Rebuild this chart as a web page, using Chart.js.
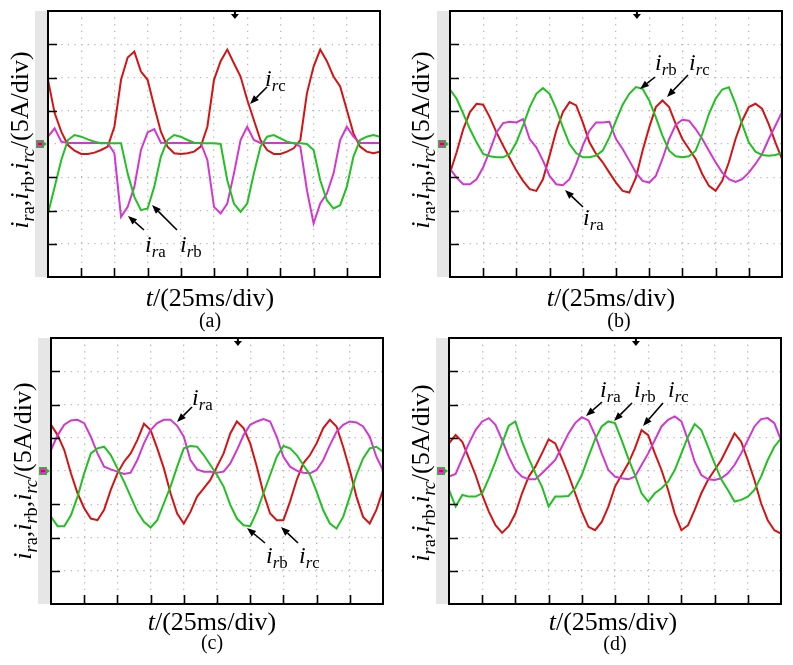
<!DOCTYPE html>
<html>
<head>
<meta charset="utf-8">
<script src="https://cdn.jsdelivr.net/npm/chart.js@4.4.0/dist/chart.umd.min.js"></script>
<style>
body{margin:0;background:#fff;width:793px;height:665px;position:relative;overflow:hidden;font-family:"Liberation Serif","DejaVu Serif",serif;color:#000}
canvas{position:absolute}
.ytitle{position:absolute;font-size:26px;white-space:nowrap;line-height:1;transform:translate(-50%,-50%) rotate(-90deg)}
.xtitle{position:absolute;font-size:26px;white-space:nowrap;line-height:1;transform:translate(-50%,-50%)}
.cap{position:absolute;font-size:20px;line-height:1;transform:translate(-50%,-50%)}
.lbl{position:absolute;font-size:24px;line-height:1;white-space:nowrap}
.s{font-size:0.7em;vertical-align:-0.3em}
svg{position:absolute;left:0;top:0}
</style>
</head>
<body>
<canvas id="ca" width="352" height="274"></canvas>
<canvas id="cb" width="352" height="274"></canvas>
<canvas id="cc" width="352" height="274"></canvas>
<canvas id="cd" width="352" height="274"></canvas>
<svg id="arrows" width="793" height="665"></svg>
<script>
// time axis, in divisions (25 ms/div)
const t = [0,0.2,0.4,0.6,0.8,1,1.2,1.4,1.6,1.8,2,2.2,2.4,2.6,2.8,3,3.2,3.4,3.6,3.8,4,4.2,4.4,4.6,4.8,5,5.2,5.4,5.6,5.8,6,6.2,6.4,6.6,6.8,7,7.2,7.4,7.6,7.8,8,8.2,8.4,8.6,8.8,9,9.2,9.4,9.6,9.8,10];

// (a) currents, in divisions (5 A/div)
const redA = [1.93,0.93,0.37,-0.03,-0.2,-0.3,-0.3,-0.26,-0.18,-0.08,0.52,1.93,2.6,2.78,2.18,1.93,1.13,0.37,-0.08,-0.28,-0.3,-0.28,-0.23,-0.08,0.52,1.93,2.49,2.84,2.43,2.03,1.33,0.72,0.12,-0.18,-0.3,-0.3,-0.23,-0.13,0.12,1.53,2.33,2.84,2.49,2.03,1.73,1.03,0.32,-0.08,-0.23,-0.28,-0.23];
const magA = [0.22,0.47,0.07,0.03,0.03,0.03,0.03,0.03,0.03,0.03,-0.28,-2.19,-1.89,-1.29,-0.18,0.35,0.45,0.04,0.03,0.03,0.03,0.03,0.03,0.03,-0.48,-1.89,-2.09,-1.79,-0.89,0.12,0.52,0.12,0.03,0.03,0.03,0.03,0.03,0.03,-0.08,-1.39,-2.39,-1.79,-1.49,-0.89,0.12,0.52,0.22,0.03,0.03,0.03,0.03];
const grnA = [-2.09,-1.29,-0.48,0.12,0.27,0.22,0.14,0.07,0.02,0.02,0.02,0.02,-0.89,-1.59,-1.99,-1.94,-1.29,-0.38,0.12,0.27,0.22,0.12,0.04,0.02,0.02,0.02,0,-1.09,-1.79,-2.04,-1.79,-0.89,-0.08,0.22,0.27,0.17,0.07,0.02,0.02,0,-0.18,-1.09,-1.69,-1.94,-1.84,-1.29,-0.38,0.12,0.22,0.27,0.22];

// (b)
const redB = [-0.86,-0.25,0.45,0.96,1.21,1.18,0.8,0.35,-0.05,-0.43,-0.8,-1.11,-1.36,-1.41,-1.06,-0.35,0.4,0.96,1.26,1.16,0.65,0.05,-0.3,-0.55,-0.86,-1.16,-1.41,-1.46,-1.01,-0.2,0.5,1.11,1.31,1.11,0.6,0.15,-0.15,-0.45,-0.91,-1.26,-1.41,-1.11,-0.55,0.15,0.7,1.11,1.21,1.06,0.6,0.05,-0.45];
const magB = [-0.75,-1.01,-1.21,-1.21,-1.06,-0.7,-0.2,0.35,0.63,0.67,0.65,0.75,0.15,-0.1,-0.5,-0.96,-1.21,-1.24,-1.06,-0.6,-0.05,0.4,0.65,0.65,0.67,0.15,-0.15,-0.5,-0.86,-1.11,-1.16,-0.96,-0.45,0.15,0.58,0.73,0.7,0.45,0.15,-0.2,-0.55,-0.86,-1.06,-1.14,-1.06,-0.86,-0.6,-0.3,0.15,0.55,0.96];
const grnB = [1.64,1.36,0.91,0.45,0.05,-0.3,-0.37,-0.4,-0.4,-0.3,0.05,0.55,1.11,1.51,1.68,1.51,1.06,0.5,0,-0.27,-0.4,-0.4,-0.35,-0.2,0.2,0.7,1.18,1.51,1.71,1.66,1.31,0.8,0.25,-0.2,-0.37,-0.4,-0.37,-0.2,0.3,0.91,1.36,1.64,1.71,1.21,0.6,0.05,-0.23,-0.33,-0.35,-0.33,-0.27];

// (c)
const redC = [1.39,1.08,0.63,-0.07,-0.67,-1.12,-1.43,-1.48,-1.17,-0.57,-0.07,0.28,0.53,0.93,1.42,1.23,0.68,0.08,-0.67,-1.28,-1.58,-1.23,-0.77,-0.52,-0.27,0.13,0.53,1.13,1.49,1.29,0.83,0.13,-0.67,-1.28,-1.48,-1.48,-0.92,-0.27,0.23,0.48,0.83,1.29,1.54,1.34,0.73,0.03,-0.77,-1.38,-1.58,-1.17,-0.57];
const magC = [0.63,1.08,1.39,1.52,1.54,1.44,1.03,0.53,0.13,0.05,-0.02,-0.09,-0.05,0.33,0.83,1.23,1.44,1.54,1.54,1.36,1.03,0.33,0.05,-0.02,-0.02,-0.05,-0.02,0.23,0.63,1.08,1.39,1.49,1.56,1.49,1.03,0.43,0.13,0.01,-0.05,-0.07,0.03,0.33,0.78,1.18,1.39,1.49,1.46,1.34,1.03,0.43,0.03];
const grnC = [-1.38,-1.66,-1.66,-1.33,-0.77,-0.07,0.53,0.68,0.73,0.48,0.08,-0.32,-0.77,-1.22,-1.53,-1.7,-1.48,-0.97,-0.47,0.13,0.68,0.75,0.73,0.48,0.18,-0.12,-0.47,-1.02,-1.43,-1.63,-1.66,-1.22,-0.67,-0.12,0.43,0.75,0.68,0.48,0.18,-0.12,-0.62,-1.18,-1.58,-1.73,-1.38,-0.77,-0.12,0.38,0.68,0.73,0.58];

// (d)
const redD = [0.83,1.08,0.88,0.38,-0.12,-0.72,-1.22,-1.63,-1.86,-1.66,-1.28,-0.67,-0.17,0.13,0.53,0.95,0.83,0.38,-0.12,-0.67,-1.22,-1.68,-1.78,-1.53,-1.07,-0.47,-0.12,0.23,0.68,1.23,1.08,0.53,0.03,-0.57,-1.28,-1.78,-1.63,-1.17,-0.67,-0.27,0.03,0.33,0.73,1.13,0.88,0.33,-0.27,-0.97,-1.48,-1.78,-1.88];
const magD = [-0.17,-0.09,0.38,0.83,1.23,1.49,1.59,1.39,0.93,0.43,0.03,-0.17,-0.25,-0.25,-0.07,0.13,0.33,0.73,1.13,1.44,1.62,1.52,1.08,0.53,0.03,-0.17,-0.22,-0.25,-0.17,0.18,0.53,0.93,1.34,1.54,1.64,1.49,0.93,0.28,-0.12,-0.25,-0.27,-0.22,-0.07,0.18,0.53,0.93,1.34,1.56,1.59,1.44,0.93];
const grnD = [-0.57,-1.07,-0.72,-0.77,-0.77,-0.67,-0.22,0.28,0.83,1.36,1.49,0.88,0.38,-0.07,-0.47,-1.07,-0.77,-0.77,-0.75,-0.52,-0.12,0.43,0.95,1.34,1.49,1.44,0.93,0.38,-0.12,-0.67,-0.92,-0.67,-0.52,-0.32,0.03,0.53,1.03,1.41,1.23,0.73,0.23,-0.25,-0.57,-0.92,-0.87,-0.77,-0.57,-0.17,0.33,0.73,0.98];

const RED = '#d41414', MAG = '#d038d0', GRN = '#22c022';

const panels = [
  {id: 'ca', left: 48,  top: 11,  red: redA, mag: magA, grn: grnA},
  {id: 'cb', left: 450, top: 11,  red: redB, mag: magB, grn: grnB},
  {id: 'cc', left: 51,  top: 338, red: redC, mag: magC, grn: grnC},
  {id: 'cd', left: 449, top: 338, red: redD, mag: magD, grn: grnD}
];

// oscilloscope frame: grey strip, box, inner ticks, trigger and ground markers
const scopePlugin = {
  id: 'scope',
  beforeDraw(chart) {
    const ctx = chart.ctx, a = chart.chartArea;
    ctx.save();
    ctx.fillStyle = '#e6e6e6';
    ctx.fillRect(a.left - 13, a.top, 13, a.bottom - a.top);
    ctx.restore();
  },
  afterDraw(chart) {
    const ctx = chart.ctx, a = chart.chartArea;
    const xs = chart.scales.x, ys = chart.scales.y;
    ctx.save();
    ctx.strokeStyle = '#000';
    ctx.lineWidth = 2;
    ctx.strokeRect(a.left, a.top, a.right - a.left, a.bottom - a.top);
    ctx.lineWidth = 1.6;
    ctx.beginPath();
    for (let i = 1; i < 10; i++) {
      const x = Math.round(xs.getPixelForValue(i)) + 0.5;
      ctx.moveTo(x, a.bottom); ctx.lineTo(x, a.bottom - 9);
    }
    for (let j = -3; j <= 3; j++) {
      if (j === 0) continue;
      const y = Math.round(ys.getPixelForValue(j)) + 0.5;
      ctx.moveTo(a.left, y); ctx.lineTo(a.left + 9, y);
    }
    ctx.stroke();
    // trigger marker
    const tx = xs.getPixelForValue(5.63);
    ctx.fillStyle = '#000';
    ctx.fillRect(tx - 1, a.top, 2, 4);
    ctx.beginPath();
    ctx.moveTo(tx - 4, a.top + 3); ctx.lineTo(tx + 4, a.top + 3); ctx.lineTo(tx, a.top + 8);
    ctx.fill();
    // ground marker
    const gy = ys.getPixelForValue(0);
    ctx.fillStyle = MAG;
    ctx.fillRect(a.left - 11, gy - 3, 6, 6);
    ctx.strokeStyle = GRN; ctx.lineWidth = 1;
    ctx.strokeRect(a.left - 11.5, gy - 3.5, 7, 7);
    ctx.fillStyle = RED;
    ctx.fillRect(a.left - 10, gy - 1, 4, 2);
    ctx.fillStyle = GRN;
    ctx.beginPath();
    ctx.moveTo(a.left - 5, gy - 3); ctx.lineTo(a.left - 1, gy); ctx.lineTo(a.left - 5, gy + 3);
    ctx.fill();
    ctx.restore();
  }
};

function series(arr, color) {
  return {
    data: t.map((x, i) => ({x: x, y: arr[i]})),
    borderColor: color,
    borderWidth: 2,
    pointRadius: 0,
    tension: 0,
    fill: false
  };
}

panels.forEach(p => {
  const cv = document.getElementById(p.id);
  cv.style.left = (p.left - 16) + 'px';
  cv.style.top = (p.top - 4) + 'px';
  new Chart(cv, {
    type: 'line',
    data: {
      datasets: [series(p.grn, GRN), series(p.mag, MAG), series(p.red, RED)]
    },
    options: {
      responsive: false,
      animation: false,
      events: [],
      layout: {padding: {left: 16, right: 4, top: 4, bottom: 4}},
      plugins: {legend: {display: false}, tooltip: {enabled: false}},
      scales: {
        x: {
          type: 'linear', min: 0, max: 10,
          ticks: {display: false, stepSize: 1},
          grid: {color: '#b8b8b8', lineWidth: 1.3, drawTicks: false},
          border: {display: false, dash: [1.3, 5.3]}
        },
        y: {
          type: 'linear', min: -4, max: 4,
          ticks: {display: false, stepSize: 1},
          grid: {color: '#b8b8b8', lineWidth: 1.3, drawTicks: false},
          border: {display: false, dash: [1.3, 5.3]}
        }
      }
    },
    plugins: [scopePlugin]
  });
});

// text: axis titles, captions, trace labels
const yTitle = '<i>i</i><span class="s"><i>r</i>a</span>,<i>i</i><span class="s"><i>r</i>b</span>,<i>i</i><span class="s"><i>rc</i></span>/(5A/div)';
const xTitle = '<i>t</i>/(25ms/div)';
const yTitlePos = [[22, 140], [423, 140], [25, 471], [423, 473]];
const xTitlePos = [[210, 298], [611, 298], [212, 622], [613, 622]];
const captions = ['(a)', '(b)', '(c)', '(d)'];
const capPos = [[210, 320], [619, 320], [212, 642], [615, 643]];

function lbl(sub) { return '<i>i</i><span class="s"><i>r</i>' + sub + '</span>'; }
const traceLabels = [
  ['c', 265, 66], ['a', 145, 232], ['b', 180, 232],
  ['b', 655, 50], ['c', 689, 50], ['a', 583, 205],
  ['a', 192, 385], ['b', 266, 543], ['c', 299, 543],
  ['a', 600, 377], ['b', 634, 377], ['c', 668, 377]
];
const arrowLines = [
  [267, 87, 250, 104], [144, 230, 128, 216], [177, 230, 152, 205],
  [655, 77, 640, 89], [688, 75, 667, 97], [583, 207, 565, 190],
  [192, 407, 177, 422], [265, 543, 247, 528], [298, 543, 281, 527],
  [602, 402, 586, 416], [632, 403, 614, 421], [663, 403, 643, 426]
];

function addDiv(cls, html, x, y) {
  const d = document.createElement('div');
  d.className = cls;
  d.innerHTML = html;
  d.style.left = x + 'px';
  d.style.top = y + 'px';
  document.body.appendChild(d);
}
yTitlePos.forEach(p => addDiv('ytitle', yTitle, p[0], p[1]));
xTitlePos.forEach(p => addDiv('xtitle', xTitle, p[0], p[1]));
capPos.forEach((p, i) => addDiv('cap', captions[i], p[0], p[1]));
traceLabels.forEach(l => addDiv('lbl', lbl(l[0]), l[1], l[2]));

const svg = document.getElementById('arrows');
let s = '';
arrowLines.forEach(a => {
  const [x1, y1, x2, y2] = a;
  const dx = x2 - x1, dy = y2 - y1, len = Math.hypot(dx, dy);
  const ux = dx / len, uy = dy / len;
  const bx = x2 - ux * 9, by = y2 - uy * 9;
  s += `<line x1="${x1}" y1="${y1}" x2="${bx}" y2="${by}" stroke="#000" stroke-width="1.6"/>`;
  s += `<polygon points="${x2},${y2} ${bx - uy * 3.5},${by + ux * 3.5} ${bx + uy * 3.5},${by - ux * 3.5}" fill="#000"/>`;
});
svg.innerHTML = s;
</script>
</body>
</html>
